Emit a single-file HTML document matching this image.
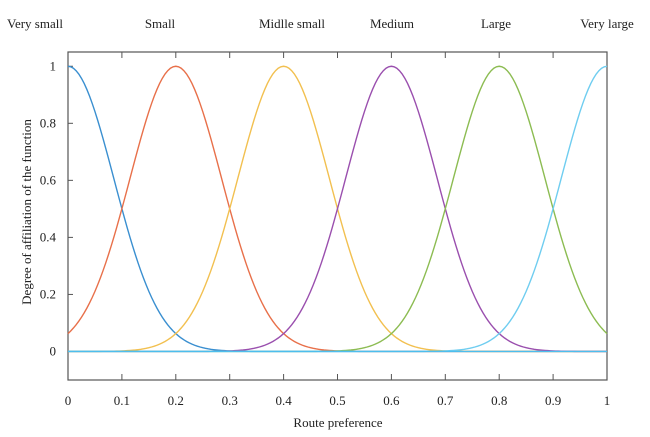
<!DOCTYPE html>
<html><head><meta charset="utf-8"><style>
html,body{margin:0;padding:0;background:#fff;width:650px;height:437px;overflow:hidden}
text{font-family:"Liberation Serif",serif;fill:#222}
</style></head><body>
<svg id="chart" width="650" height="437" xmlns="http://www.w3.org/2000/svg"></svg>
<script>
const categories = ["Very small","Small","Midlle small","Medium","Large","Very large"];
const centers = [0,0.2,0.4,0.6,0.8,1.0];
const sigmas = [0.085,0.085,0.085,0.085,0.085,0.085];
const colors = ["#3a8fd0","#e8704a","#f2c050","#9a4fae","#8cbc52","#6fcdf0"];
const xTicks = [0,0.1,0.2,0.3,0.4,0.5,0.6,0.7,0.8,0.9,1];
const xTickLabels = ["0","0.1","0.2","0.3","0.4","0.5","0.6","0.7","0.8","0.9","1"];
const yTicks = [0,0.2,0.4,0.6,0.8,1];
const yTickLabels = ["0","0.2","0.4","0.6","0.8","1"];
const categoryLabelX = [35,160,292,392,496,607];

const svg = document.getElementById('chart');
const NS = "http://www.w3.org/2000/svg";
const X0=68, X1=607, Ymin=-0.1, Ymax=1.05, PB=380, PT=52;
const xs = v => X0 + v*(X1-X0);
const ys = v => PB - (v-Ymin)/(Ymax-Ymin)*(PB-PT);
function mk(tag, attrs, parent){const e=document.createElementNS(NS,tag);for(const k in attrs)e.setAttribute(k,attrs[k]);(parent||svg).appendChild(e);return e;}

// frame
const frame = mk('rect',{x:X0,y:PT,width:X1-X0,height:PB-PT,fill:'none',stroke:'#555','stroke-width':1.2});



// x ticks
xTicks.forEach((t,i)=>{
  const x=xs(t);
  const tb=mk('line',{x1:x,x2:x,y1:PB,y2:PB-6,stroke:'#555'});
  
  
  const tt=mk('line',{x1:x,x2:x,y1:PT,y2:PT+6,stroke:'#555'});
  
  
  const lb=mk('text',{x:x,y:405,'text-anchor':'middle','font-size':13});
  lb.textContent=xTickLabels[i];
  
  
});
// y ticks
yTicks.forEach((t,i)=>{
  const y=ys(t);
  const tk=mk('line',{x1:X0,x2:X0+5,y1:y,y2:y,stroke:'#555'});
  
  
  const lb=mk('text',{x:56,y:y+4,'text-anchor':'end','font-size':13});
  lb.textContent=yTickLabels[i];
  
  
});

// baseline zero segments and curves
centers.forEach((c,k)=>{
  let d='';
  for(let i=0;i<=200;i++){
    const v=i/200;
    const m=Math.exp(-((v-c)*(v-c))/(2*sigmas[k]*sigmas[k]));
    d+=(i?'L':'M')+xs(v).toFixed(2)+','+ys(m).toFixed(2);
  }
  const p=mk('path',{d:d,fill:'none',stroke:colors[k],'stroke-width':1.4});
  
  
});
const zl=mk('line',{x1:X0,x2:X1,y1:ys(0),y2:ys(0),stroke:'#4dbeee','stroke-width':1.4});



// category labels
categories.forEach((c,i)=>{
  const t=mk('text',{x:categoryLabelX[i],y:28,'text-anchor':'middle','font-size':13});
  t.textContent=c;
  
  
});

const xl=mk('text',{x:338,y:427,'text-anchor':'middle','font-size':13});
xl.textContent='Route preference';


const yl=mk('text',{x:0,y:0,'text-anchor':'middle','font-size':13,transform:'translate(31,212) rotate(-90)'});
yl.textContent='Degree of affiliation of the function';


</script>
</body></html>
